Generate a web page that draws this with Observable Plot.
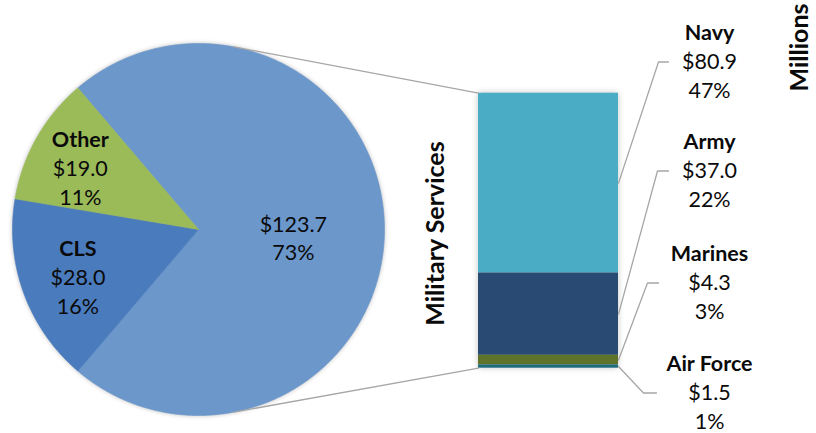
<!DOCTYPE html>
<html><head><meta charset="utf-8">
<script src="https://cdn.jsdelivr.net/npm/d3@7"></script>
<script src="https://cdn.jsdelivr.net/npm/@observablehq/plot@0.6"></script>
<style>
html,body{margin:0;padding:0;background:#fff;}
#chart{position:relative;width:816px;height:433px;overflow:hidden;font-family:Lato,"Noto Sans",sans-serif;}
#chart > svg{position:absolute;}
</style></head><body><div id="chart"></div>
<script>
// ---- data ----
const pieNames = ["Military Services", "CLS", "Other"];
const pieValues = [123.7, 28.0, 19.0];
const piePercents = ["73%", "16%", "11%"];
const pieShowName = [false, true, true];
const barNames = ["Navy", "Army", "Marines", "Air Force"];
const barValues = [80.9, 37.0, 4.3, 1.5];
const barPercents = ["47%", "22%", "3%", "1%"];
const barTitle = "Military Services";
const unitsLabel = "Millions";

// ---- styles ----
const pieColors = ["#6B97CA", "#4A7BBD", "#9BBB59"];
const barColors = ["#4BACC6", "#284A73", "#5F732A", "#1F6D7C"];
const grey = "#A6A6A6";
const FS = 21.5;
const ink = "#0a0a0a";
const fmt = v => "$" + v.toFixed(1);

// ---- layout ----
const W = 816, H = 433;
const pieCx = 198, pieCy = 229, R = 186;
const barLeft = 478, barRight = 618, barTopPx = 92.7, barBottomPx = 367.7;
const barTotal = d3.sum(barValues);
const barYOptions = {domain: [0, barTotal], range: [barBottomPx, barTopPx]};
let barY;
try { barY = Plot.scale({y: barYOptions}); if (typeof barY.apply !== "function") throw 0; }
catch (e) { const s = d3.scaleLinear(barYOptions.domain, barYOptions.range); barY = {apply: s}; }

const chart = document.getElementById("chart");

// ---- pie ----
const fullTotal = d3.sum(pieValues);
const span = pieValues[0] / fullTotal * 2 * Math.PI;
const start = Math.PI / 2 - span / 2;
const arcs = d3.pie().sort(null).startAngle(start).endAngle(start + 2 * Math.PI)(pieValues);
const pieRows = [];
arcs.forEach((a, i) => {
  const n = Math.max(2, Math.ceil((a.endAngle - a.startAngle) / (Math.PI / 360)));
  pieRows.push({name: pieNames[i], x: 0, y: 0});
  for (let k = 0; k <= n; k++) {
    const t = a.startAngle + (a.endAngle - a.startAngle) * k / n;
    pieRows.push({name: pieNames[i], x: Math.sin(t), y: Math.cos(t)});
  }
  pieRows.push({name: pieNames[i], x: 0, y: 0});
});
const labelRadius = [0.51, 0.69, 0.73];
const labelShiftPx = [10, 5, 7];
const pieBold = [], pieNormal = [];
arcs.forEach((a, i) => {
  const mid = (a.startAngle + a.endAngle) / 2;
  const cx = labelRadius[i] * Math.sin(mid);
  const cy = labelRadius[i] * Math.cos(mid) - labelShiftPx[i] / R;
  if (pieShowName[i]) {
    pieBold.push({x: cx, y: cy + 29 / R, t: pieNames[i]});
    pieNormal.push({x: cx, y: cy, t: fmt(pieValues[i])});
    pieNormal.push({x: cx, y: cy - 29 / R, t: piePercents[i]});
  } else {
    pieNormal.push({x: cx, y: cy + 14 / R, t: fmt(pieValues[i])});
    pieNormal.push({x: cx, y: cy - 14 / R, t: piePercents[i]});
  }
});
const piePlot = Plot.plot({
  width: 2 * R, height: 2 * R, margin: 0,
  x: {domain: [-1, 1], axis: null},
  y: {domain: [-1, 1], axis: null},
  color: {domain: pieNames, range: pieColors},
  style: {background: "transparent", overflow: "visible", fontFamily: "Lato", position: "absolute",
          left: (pieCx - R) + "px", top: (pieCy - R) + "px", filter: "drop-shadow(0px 0px 2px rgba(0,0,0,0.25))"},
  marks: [
    Plot.line(pieRows, {x: "x", y: "y", z: "name", fill: "name", stroke: "name", strokeWidth: 0.6, curve: "linear"})
  ]
});
const pieText = Plot.plot({
  width: 2 * R, height: 2 * R, margin: 0,
  x: {domain: [-1, 1], axis: null},
  y: {domain: [-1, 1], axis: null},
  style: {background: "transparent", overflow: "visible", fontFamily: "Lato", position: "absolute",
          left: (pieCx - R) + "px", top: (pieCy - R) + "px"},
  marks: [
    Plot.text(pieNormal, {x: "x", y: "y", text: "t", fontSize: FS, fill: ink}),
    Plot.text(pieBold, {x: "x", y: "y", text: "t", fontSize: FS, fontWeight: "bold", fill: ink})
  ]
});

// ---- bar ----
const barData = barNames.map((n, i) => ({name: n, value: barValues[i]}));
const barPlot = Plot.plot({
  width: W, height: H, margin: 0,
  x: {type: "band", domain: [barTitle], range: [barLeft, barRight], padding: 0, axis: null},
  y: {...barYOptions, axis: null},
  color: {domain: barNames, range: barColors},
  style: {background: "transparent", overflow: "visible", position: "absolute", left: "0px", top: "0px",
          filter: "drop-shadow(0px 0px 3px rgba(0,0,0,0.22))"},
  marks: [
    Plot.barY(barData, Plot.stackY({x: () => barTitle, y: "value", fill: "name", reverse: true, inset: 0}))
  ]
});

// ---- overlay: connectors, leaders, labels ----
const connAngle = 11 * Math.PI / 180;
const connectors = [
  {g: "top", x: pieCx + R * Math.sin(connAngle), y: pieCy - R * Math.cos(connAngle)},
  {g: "top", x: barLeft, y: barY.apply(barTotal)},
  {g: "bottom", x: pieCx + R * Math.sin(connAngle), y: pieCy + R * Math.cos(connAngle)},
  {g: "bottom", x: barLeft, y: barY.apply(0)}
];
// cumulative midpoints from bottom (Air Force at bottom)
const mids = {};
let acc = 0;
for (let i = barNames.length - 1; i >= 0; i--) { mids[barNames[i]] = acc + barValues[i] / 2; acc += barValues[i]; }
const labelX = 709;
const labelTop = [33, 142, 254, 364];
const leaderX = [[668, 658], [668, 657], [658, 647], [656, 643]];
const leaders = [];
const barLabBold = [], barLabNormal = [];
barNames.forEach((n, i) => {
  const vy = labelTop[i] + 28.5;
  leaders.push({g: n, x: leaderX[i][0], y: vy});
  leaders.push({g: n, x: leaderX[i][1], y: vy});
  leaders.push({g: n, x: barRight, y: barY.apply(mids[n])});
  barLabBold.push({x: labelX, y: labelTop[i], t: n});
  barLabNormal.push({x: labelX, y: vy, t: fmt(barValues[i])});
  barLabNormal.push({x: labelX, y: labelTop[i] + 57.5, t: barPercents[i]});
});
const overlay = Plot.plot({
  width: W, height: H, margin: 0,
  x: {domain: [0, W], range: [0, W], axis: null},
  y: {domain: [0, H], range: [0, H], axis: null},
  style: {background: "transparent", overflow: "visible", fontFamily: "Lato", position: "absolute", left: "0px", top: "0px"},
  marks: [
    Plot.line(connectors, {x: "x", y: "y", z: "g", stroke: grey, strokeWidth: 1.3}),
    Plot.line(leaders, {x: "x", y: "y", z: "g", stroke: grey, strokeWidth: 1.3}),
    Plot.text(barLabBold, {x: "x", y: "y", text: "t", fontSize: FS, fontWeight: "bold", fill: ink}),
    Plot.text(barLabNormal, {x: "x", y: "y", text: "t", fontSize: FS, fill: ink}),
    Plot.text([barTitle], {x: 435, y: 233, text: d => d, rotate: -90, fontSize: 25, fontWeight: "bold", fill: ink}),
    Plot.text([unitsLabel], {x: 799, y: 91, text: d => d, rotate: -90, textAnchor: "start", fontSize: 25, fontWeight: "bold", fill: ink})
  ]
});

chart.append(piePlot, barPlot, overlay, pieText);
</script>
</body></html>
